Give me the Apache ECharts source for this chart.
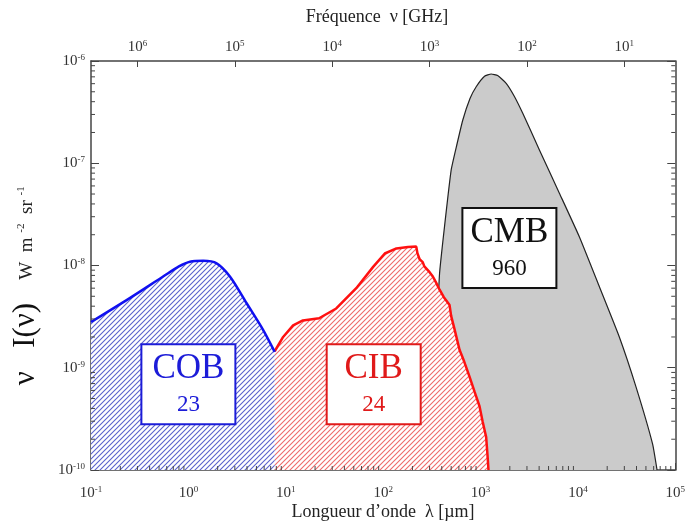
<!DOCTYPE html>
<html>
<head>
<meta charset="utf-8">
<script src="https://cdn.jsdelivr.net/npm/echarts@6/dist/echarts.min.js"></script>
<style>
  html, body { margin: 0; padding: 0; background: #fff; }
  #chart { width: 688px; height: 524px; }
</style>
</head>
<body>
<div id="chart"></div>
<script>
// wavelength [µm], intensity nuI(nu) [W m-2 sr-1]
const cobData = [
  [0.1, 2.8e-9], [0.25, 4.8e-9], [0.55, 7.8e-9], [0.8, 9.8e-9], [1.04, 1.09e-8],
  [1.42, 1.11e-8], [1.95, 1.05e-8], [2.67, 7.8e-9], [3.95, 4.3e-9], [5.85, 2.35e-9],
  [7.7, 1.43e-9]
]
const cibData = [
  [7.7, 1.45e-9], [9.4, 2.0e-9], [11.9, 2.6e-9], [15, 2.9e-9], [22, 3.05e-9],
  [33, 3.8e-9], [53, 6.0e-9], [79, 9.7e-9], [104, 1.31e-8], [137, 1.47e-8],
  [180, 1.52e-8], [219, 1.53e-8], [225, 1.32e-8], [237, 1.15e-8], [255, 1.08e-8],
  [265, 9.8e-9], [277, 9.4e-9], [300, 8.6e-9], [324, 7.8e-9], [350, 6.8e-9],
  [380, 5.8e-9], [420, 4.9e-9], [481, 4.1e-9], [500, 3.2e-9], [540, 2.4e-9],
  [609, 1.5e-9], [680, 1.15e-9], [771, 8.2e-10], [870, 5.8e-10], [977, 4.2e-10],
  [1050, 3.0e-10], [1143, 2.1e-10], [1180, 1.4e-10], [1208, 1e-10]
]
const cmbData = [
  [300, 1e-10], [330, 6e-10], [360, 3e-9], [380, 8.4e-9], [427, 2.4e-8],
  [500, 8.6e-8], [570, 1.5e-7], [658, 2.65e-7], [780, 4.3e-7], [903, 5.6e-7],
  [1100, 7.1e-7], [1288, 7.46e-7], [1500, 7.2e-7], [1836, 6.05e-7], [2230, 4.5e-7],
  [2716, 3.08e-7], [4027, 1.35e-7], [6457, 5.1e-8], [10350, 1.91e-8], [16630, 6.2e-9],
  [26650, 2.0e-9], [39530, 6.5e-10], [58480, 1.8e-10], [65000, 1e-10]
]
// boxes: [lambda, intensity, name, value]
const boxes = [
  [1.0, 6.9e-10, 'COB', '23'],
  [80, 6.9e-10, 'CIB', '24'],
  [1980, 1.48e-8, 'CMB', '960']
]
const boxColors = { COB: '#1c1cd8', CIB: '#e01a1a', CMB: '#111' }

// minor tick positions (2..9 x 10^n)
const xMinor = []
for (let e = -1; e < 5; e++) for (let m = 2; m <= 9; m++) xMinor.push([m * Math.pow(10, e), 1e-10])
const yMinor = []
for (let e = -10; e < -6; e++) for (let m = 2; m <= 9; m++) yMinor.push([0.1, m * Math.pow(10, e)])

const FONT = '"Liberation Serif", "DejaVu Serif", serif'

function hatch(color) {
  const s = 5
  const c = document.createElement('canvas')
  c.width = s
  c.height = s
  const ctx = c.getContext('2d')
  ctx.fillStyle = '#fff'
  ctx.fillRect(0, 0, s, s)
  ctx.strokeStyle = color
  ctx.lineWidth = 1.1
  ctx.beginPath()
  ctx.moveTo(0, s); ctx.lineTo(s, 0)
  ctx.moveTo(-1, 1); ctx.lineTo(1, -1)
  ctx.moveTo(s - 1, s + 1); ctx.lineTo(s + 1, s - 1)
  ctx.stroke()
  return c
}

function powLabel(v) {
  const e = Math.round(Math.log10(v))
  return '10{s|' + e + '}'
}
const labelRich = {
  s: { fontSize: 9, verticalAlign: 'top', fontFamily: FONT, color: '#333', lineHeight: 16, padding: [0, 0, 8, 0] }
}
const axisLabelBase = {
  fontFamily: FONT, fontSize: 15, color: '#333', formatter: powLabel, rich: labelRich,
  showMinLabel: true, showMaxLabel: true
}
const axisLineStyle = { show: true, lineStyle: { color: '#444', width: 1.5 } }

const chart = echarts.init(document.getElementById('chart'))

chart.setOption({
  animation: false,
  backgroundColor: '#fff',
  grid: { left: 91, right: 12, top: 61, bottom: 54 },
  xAxis: [
    {
      type: 'log', logBase: 10, min: 0.1, max: 1e5, position: 'bottom',
      axisLine: axisLineStyle,
      axisTick: { show: true, inside: true, length: 7, lineStyle: { color: '#444' } },
      axisLabel: Object.assign({}, axisLabelBase, { margin: 15 }),
      splitLine: { show: false }
    },
    {
      type: 'log', logBase: 10, min: 3, max: 3e6, inverse: true, position: 'top',
      axisLine: axisLineStyle,
      axisTick: { show: true, inside: true, length: 6, lineStyle: { color: '#444' } },
      axisLabel: Object.assign({}, axisLabelBase, { margin: 6, showMinLabel: false, showMaxLabel: false }),
      splitLine: { show: false }
    }
  ],
  yAxis: [
    {
      type: 'log', logBase: 10, min: 1e-10, max: 1e-6, position: 'left',
      axisLine: axisLineStyle,
      axisTick: { show: true, inside: true, length: 8, lineStyle: { color: '#444' } },
      axisLabel: Object.assign({}, axisLabelBase, { margin: 6 }),
      splitLine: { show: false }
    },
    {
      type: 'log', logBase: 10, min: 1e-10, max: 1e-6, position: 'right',
      axisLine: axisLineStyle,
      axisTick: { show: true, inside: true, length: 8, lineStyle: { color: '#444' } },
      axisLabel: { show: false },
      splitLine: { show: false }
    }
  ],
  graphic: [
    {
      type: 'text', x: 26, y: 344, rotation: Math.PI / 2,
      style: { text: 'ν   I(ν)', font: '31px ' + FONT, fill: '#111', align: 'center', verticalAlign: 'middle' }
    },
    {
      type: 'text', x: 27, y: 233, rotation: Math.PI / 2,
      style: {
        text: '{b|W  m }{s|-2}{b|  sr }{s|-1}',
        align: 'center', verticalAlign: 'middle',
        rich: {
          b: { fontSize: 19, fontFamily: FONT, fill: '#222', lineHeight: 22 },
          s: { fontSize: 11, fontFamily: FONT, fill: '#222', verticalAlign: 'top', lineHeight: 22, padding: [0, 0, 10, 0] }
        }
      }
    },
    {
      type: 'text', x: 383, y: 512,
      style: { text: 'Longueur d\u2019onde  λ [µm]', font: '18px ' + FONT, fill: '#222', align: 'center', verticalAlign: 'middle' }
    },
    {
      type: 'text', x: 377, y: 17,
      style: { text: 'Fréquence  ν [GHz]', font: '18px ' + FONT, fill: '#222', align: 'center', verticalAlign: 'middle' }
    }
  ],
  series: [
    {
      name: 'CMB', type: 'line', data: cmbData, smooth: 0.15, symbol: 'none',
      lineStyle: { color: '#222', width: 1.2 },
      areaStyle: { color: '#cbcbcb', opacity: 1, origin: 'start' },
      z: 2
    },
    {
      name: 'CIB', type: 'line', data: cibData, symbol: 'none',
      lineStyle: { color: '#ff1010', width: 2.5 },
      areaStyle: { color: { image: hatch('#ee6a6a'), repeat: 'repeat' }, opacity: 1, origin: 'start' },
      z: 3
    },
    {
      name: 'COB', type: 'line', data: cobData, smooth: 0.3, symbol: 'none',
      lineStyle: { color: '#1010f0', width: 2.5 },
      areaStyle: { color: { image: hatch('#5a62cc'), repeat: 'repeat' }, opacity: 1, origin: 'start' },
      z: 3
    },
    {
      name: 'xMinor', type: 'custom', data: xMinor, silent: true, z: 5,
      renderItem: function (params, api) {
        const p = api.coord([api.value(0), api.value(1)])
        return { type: 'line', shape: { x1: p[0], y1: p[1], x2: p[0], y2: p[1] - 4 }, style: { stroke: '#444', lineWidth: 1 } }
      }
    },
    {
      name: 'yMinor', type: 'custom', data: yMinor, silent: true, z: 5,
      renderItem: function (params, api) {
        const p = api.coord([api.value(0), api.value(1)])
        const q = api.coord([1e5, api.value(1)])
        return {
          type: 'group',
          children: [
            { type: 'line', shape: { x1: p[0], y1: p[1], x2: p[0] + 4, y2: p[1] }, style: { stroke: '#444', lineWidth: 1 } },
            { type: 'line', shape: { x1: q[0], y1: q[1], x2: q[0] - 4, y2: q[1] }, style: { stroke: '#444', lineWidth: 1 } }
          ]
        }
      }
    },
    {
      name: 'boxes', type: 'scatter', silent: true, z: 10,
      symbolSize: 1, itemStyle: { color: 'transparent', opacity: 1 },
      data: boxes.map(function (b) {
        const c = boxColors[b[2]]
        return {
          value: [b[0], b[1]],
          label: {
            show: true, position: 'inside', opacity: 1,
            formatter: '{a|' + b[2] + '}\n{b|' + b[3] + '}',
            backgroundColor: '#fff', borderColor: c, borderWidth: 2,
            padding: [3, 8], width: 76, align: 'center',
            rich: {
              a: { fontSize: 35, fontFamily: FONT, color: c, lineHeight: 42, align: 'center' },
              b: { fontSize: 23, fontFamily: FONT, color: c, lineHeight: 30, align: 'center' }
            }
          }
        }
      })
    }
  ]
})
</script>
</body>
</html>
